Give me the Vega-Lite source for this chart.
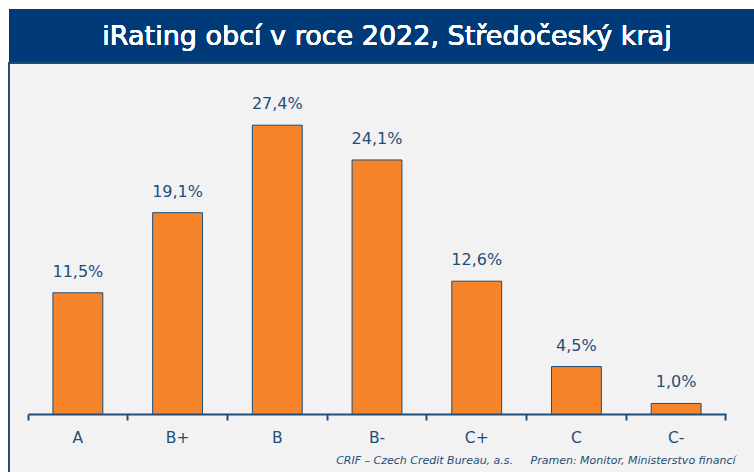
{
  "$schema": "https://vega.github.io/schema/vega-lite/v6.json",
  "background": "white",
  "padding": {"left": 8, "top": 9, "right": 0, "bottom": 0},
  "spacing": 0,
  "config": {"concat": {"spacing": 0}, "font": "DejaVu Sans"},
  "data": {"values": [
    {"rating": "A", "share": 11.5, "label": "11,5%"},
    {"rating": "B+", "share": 19.1, "label": "19,1%"},
    {"rating": "B", "share": 27.4, "label": "27,4%"},
    {"rating": "B-", "share": 24.1, "label": "24,1%"},
    {"rating": "C+", "share": 12.6, "label": "12,6%"},
    {"rating": "C", "share": 4.5, "label": "4,5%"},
    {"rating": "C-", "share": 1.0, "label": "1,0%"}
  ]},
  "vconcat": [
    {
      "width": 746,
      "height": 53,
      "view": {"fill": "#003a78", "stroke": null},
      "mark": {"type": "text", "color": "white", "fontSize": 27, "font": "DejaVu Sans", "fontWeight": "normal", "baseline": "middle", "align": "center", "dy": 1, "dx": 5},
      "encoding": {"text": {"datum": "iRating obcí v roce 2022, Středočeský kraj"}}
    },
    {
      "width": 746,
      "height": 410,
      "view": {"fill": "#f2f2f2", "stroke": "#1f4e79", "strokeWidth": 2},
      "encoding": {
        "x": {
          "field": "rating", "type": "nominal", "sort": null,
          "scale": {"range": [19, 717], "paddingInner": 0, "paddingOuter": 0},
          "axis": {
            "orient": "bottom", "offset": -59, "labelAngle": 0,
            "domainColor": "#1f4e79", "domainWidth": 2,
            "tickColor": "#1f4e79", "tickWidth": 2, "tickSize": 6,
            "bandPosition": 1, "tickExtra": true,
            "labelColor": "#1f4e79", "labelFontSize": 15.5, "labelPadding": 10,
            "title": "CRIF – Czech Credit Bureau, a.s.\u00a0\u00a0\u00a0\u00a0\u00a0Pramen: Monitor, Ministerstvo financí",
            "titleAnchor": "end", "titleX": 726, "titleAlign": "right",
            "titleFontStyle": "italic", "titleFontWeight": "normal",
            "titleFontSize": 11, "titleColor": "#1f4e79", "titlePadding": 9
          }
        },
        "y": {
          "field": "share", "type": "quantitative",
          "scale": {"domain": [0, 33.3], "range": [351, 0], "nice": false},
          "axis": null
        }
      },
      "layer": [
        {"mark": {"type": "bar", "width": {"band": 0.5}, "color": "#f5842a", "stroke": "#1f4e79", "strokeWidth": 1}},
        {"mark": {"type": "text", "baseline": "alphabetic", "dy": -16, "fontSize": 16, "color": "#1f4e79"},
         "encoding": {"text": {"field": "label"}}}
      ]
    }
  ]
}
